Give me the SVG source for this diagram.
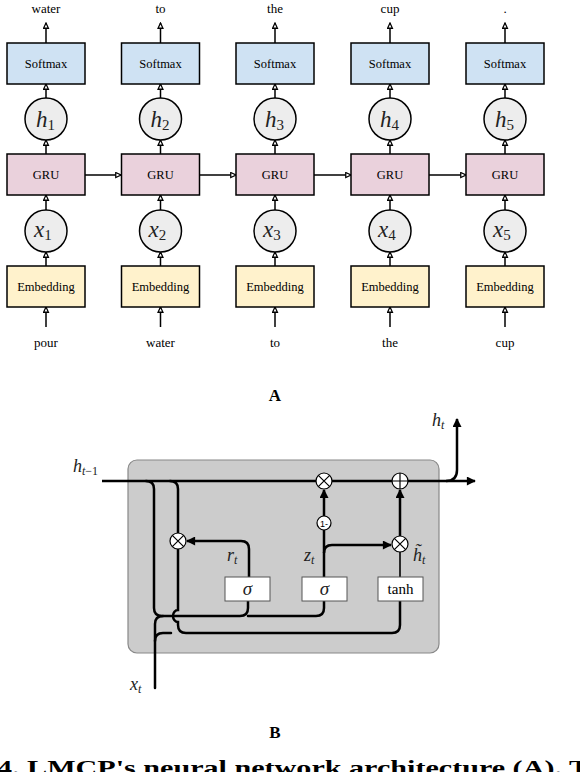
<svg xmlns="http://www.w3.org/2000/svg" width="580" height="772" viewBox="0 0 580 772">
<defs>
<style>
.box{stroke:#000;stroke-width:1.5}
.sm{fill:#cfe2f3}
.gru{fill:#ead1dc}
.emb{fill:#fff2cc}
.circ{fill:#ededed;stroke:#000;stroke-width:1.5}
.lbl{font-family:'Liberation Serif','Times New Roman',Times,'DejaVu Serif',serif;font-size:12.5px;text-anchor:middle;fill:#000}
.word{font-family:'Liberation Serif','Times New Roman',Times,'DejaVu Serif',serif;font-size:13px;text-anchor:middle;fill:#000}
.mi{font-family:'Liberation Serif','Times New Roman',Times,'DejaVu Serif',serif;font-style:italic;fill:#222}
.sub{font-style:normal}
.ca{stroke:#000;stroke-width:1.5;fill:none;marker-end:url(#open)}
.w{stroke:#000;stroke-width:2.5;fill:none;stroke-linecap:round}
.wa{stroke:#000;stroke-width:2.5;fill:none;marker-end:url(#fill)}
.op{fill:#fff;stroke:#000;stroke-width:1.2}
.gate{fill:#fff;stroke:#555;stroke-width:1}
.head{font-family:'Liberation Serif','Times New Roman',Times,'DejaVu Serif',serif;font-weight:bold;font-size:17px;text-anchor:middle}
</style>
<marker id="open" viewBox="0 0 10 10" refX="9" refY="5" markerWidth="7" markerHeight="7" orient="auto" markerUnits="userSpaceOnUse">
<path d="M1.5,1.5 L9,5 L1.5,8.5 Z" fill="#fff" stroke="#000" stroke-width="1.8"/>
</marker>
<marker id="fill" viewBox="0 0 10 10" refX="9" refY="5" markerWidth="11" markerHeight="9" orient="auto" markerUnits="userSpaceOnUse">
<path d="M0,0 L10,5 L0,10 Z" fill="#000"/>
</marker>
</defs>
<rect width="580" height="772" fill="#fff"/>

<!-- Part A connectors -->
<g id="connectorsA">
<g id="c1">
<line class="ca" x1="46" y1="43" x2="46" y2="23"/>
<line class="ca" x1="46" y1="98" x2="46" y2="84"/>
<line class="ca" x1="46" y1="154" x2="46" y2="140"/>
<line class="ca" x1="46" y1="210" x2="46" y2="195"/>
<line class="ca" x1="46" y1="266" x2="46" y2="252"/>
<line class="ca" x1="46" y1="327" x2="46" y2="307"/>
<line class="ca" x1="85" y1="175" x2="121" y2="175"/>
</g>
<g id="c2">
<line class="ca" x1="160.5" y1="43" x2="160.5" y2="23"/>
<line class="ca" x1="160.5" y1="98" x2="160.5" y2="84"/>
<line class="ca" x1="160.5" y1="154" x2="160.5" y2="140"/>
<line class="ca" x1="160.5" y1="210" x2="160.5" y2="195"/>
<line class="ca" x1="160.5" y1="266" x2="160.5" y2="252"/>
<line class="ca" x1="160.5" y1="327" x2="160.5" y2="307"/>
<line class="ca" x1="199.5" y1="175" x2="236" y2="175"/>
</g>
<g id="c3">
<line class="ca" x1="275" y1="43" x2="275" y2="23"/>
<line class="ca" x1="275" y1="98" x2="275" y2="84"/>
<line class="ca" x1="275" y1="154" x2="275" y2="140"/>
<line class="ca" x1="275" y1="210" x2="275" y2="195"/>
<line class="ca" x1="275" y1="266" x2="275" y2="252"/>
<line class="ca" x1="275" y1="327" x2="275" y2="307"/>
<line class="ca" x1="314" y1="175" x2="351" y2="175"/>
</g>
<g id="c4">
<line class="ca" x1="390" y1="43" x2="390" y2="23"/>
<line class="ca" x1="390" y1="98" x2="390" y2="84"/>
<line class="ca" x1="390" y1="154" x2="390" y2="140"/>
<line class="ca" x1="390" y1="210" x2="390" y2="195"/>
<line class="ca" x1="390" y1="266" x2="390" y2="252"/>
<line class="ca" x1="390" y1="327" x2="390" y2="307"/>
<line class="ca" x1="429" y1="175" x2="466" y2="175"/>
</g>
<g id="c5">
<line class="ca" x1="505" y1="43" x2="505" y2="23"/>
<line class="ca" x1="505" y1="98" x2="505" y2="84"/>
<line class="ca" x1="505" y1="154" x2="505" y2="140"/>
<line class="ca" x1="505" y1="210" x2="505" y2="195"/>
<line class="ca" x1="505" y1="266" x2="505" y2="252"/>
<line class="ca" x1="505" y1="327" x2="505" y2="307"/>
</g>
</g>

<!-- Part A nodes -->
<g id="col1">
<text class="word" x="46" y="13">water</text>
<g id="softmax1"><rect class="box sm" x="7" y="43" width="78" height="41"/><text class="lbl" x="46" y="68">Softmax</text></g>
<g id="h1"><circle class="circ" cx="46" cy="119" r="21"/><text class="mi" x="36" y="127" font-size="23">h<tspan class="sub" font-size="15" dy="3">1</tspan></text></g>
<g id="gru1"><rect class="box gru" x="7" y="154" width="78" height="41"/><text class="lbl" x="46" y="179">GRU</text></g>
<g id="x1"><circle class="circ" cx="46" cy="231" r="21"/><text class="mi" x="34" y="237" font-size="23">x<tspan class="sub" font-size="15" dy="3">1</tspan></text></g>
<g id="emb1"><rect class="box emb" x="7" y="266" width="78" height="41"/><text class="lbl" x="46" y="291">Embedding</text></g>
<text class="word" x="46" y="347">pour</text>
</g>
<g id="col2">
<text class="word" x="160.5" y="13">to</text>
<g id="softmax2"><rect class="box sm" x="121.5" y="43" width="78" height="41"/><text class="lbl" x="160.5" y="68">Softmax</text></g>
<g id="h2"><circle class="circ" cx="160.5" cy="119" r="21"/><text class="mi" x="150.5" y="127" font-size="23">h<tspan class="sub" font-size="15" dy="3">2</tspan></text></g>
<g id="gru2"><rect class="box gru" x="121.5" y="154" width="78" height="41"/><text class="lbl" x="160.5" y="179">GRU</text></g>
<g id="x2"><circle class="circ" cx="160.5" cy="231" r="21"/><text class="mi" x="148.5" y="237" font-size="23">x<tspan class="sub" font-size="15" dy="3">2</tspan></text></g>
<g id="emb2"><rect class="box emb" x="121.5" y="266" width="78" height="41"/><text class="lbl" x="160.5" y="291">Embedding</text></g>
<text class="word" x="160.5" y="347">water</text>
</g>
<g id="col3">
<text class="word" x="275" y="13">the</text>
<g id="softmax3"><rect class="box sm" x="236" y="43" width="78" height="41"/><text class="lbl" x="275" y="68">Softmax</text></g>
<g id="h3"><circle class="circ" cx="275" cy="119" r="21"/><text class="mi" x="265" y="127" font-size="23">h<tspan class="sub" font-size="15" dy="3">3</tspan></text></g>
<g id="gru3"><rect class="box gru" x="236" y="154" width="78" height="41"/><text class="lbl" x="275" y="179">GRU</text></g>
<g id="x3"><circle class="circ" cx="275" cy="231" r="21"/><text class="mi" x="263" y="237" font-size="23">x<tspan class="sub" font-size="15" dy="3">3</tspan></text></g>
<g id="emb3"><rect class="box emb" x="236" y="266" width="78" height="41"/><text class="lbl" x="275" y="291">Embedding</text></g>
<text class="word" x="275" y="347">to</text>
</g>
<g id="col4">
<text class="word" x="390" y="13">cup</text>
<g id="softmax4"><rect class="box sm" x="351" y="43" width="78" height="41"/><text class="lbl" x="390" y="68">Softmax</text></g>
<g id="h4"><circle class="circ" cx="390" cy="119" r="21"/><text class="mi" x="380" y="127" font-size="23">h<tspan class="sub" font-size="15" dy="3">4</tspan></text></g>
<g id="gru4"><rect class="box gru" x="351" y="154" width="78" height="41"/><text class="lbl" x="390" y="179">GRU</text></g>
<g id="x4"><circle class="circ" cx="390" cy="231" r="21"/><text class="mi" x="378" y="237" font-size="23">x<tspan class="sub" font-size="15" dy="3">4</tspan></text></g>
<g id="emb4"><rect class="box emb" x="351" y="266" width="78" height="41"/><text class="lbl" x="390" y="291">Embedding</text></g>
<text class="word" x="390" y="347">the</text>
</g>
<g id="col5">
<text class="word" x="505" y="13">.</text>
<g id="softmax5"><rect class="box sm" x="466" y="43" width="78" height="41"/><text class="lbl" x="505" y="68">Softmax</text></g>
<g id="h5"><circle class="circ" cx="505" cy="119" r="21"/><text class="mi" x="495" y="127" font-size="23">h<tspan class="sub" font-size="15" dy="3">5</tspan></text></g>
<g id="gru5"><rect class="box gru" x="466" y="154" width="78" height="41"/><text class="lbl" x="505" y="179">GRU</text></g>
<g id="x5"><circle class="circ" cx="505" cy="231" r="21"/><text class="mi" x="493" y="237" font-size="23">x<tspan class="sub" font-size="15" dy="3">5</tspan></text></g>
<g id="emb5"><rect class="box emb" x="466" y="266" width="78" height="41"/><text class="lbl" x="505" y="291">Embedding</text></g>
<text class="word" x="505" y="347">cup</text>
</g>

<text class="head" x="275" y="401">A</text>

<!-- Part B -->
<g id="cell"><rect x="128" y="460" width="311" height="193" rx="9" fill="#cccccc" stroke="#888" stroke-width="1.2"/></g>

<g id="connectorsB">
<path class="wa" d="M102,481 L475,481"/>
<path class="wa" d="M446,481 Q457,481 457,470 L457,419"/>
<path class="w" d="M146,481 Q154,481 154,489 L154,608 Q154,616 162,616 L240,616 Q248,616 248,608 L248,601 M248,616 L316,616 Q324,616 324,608 L324,601"/>
<path class="w" d="M155,688 L155,624 Q155,616 163,616"/>
<path class="w" d="M155,641 Q155,633 163,633 L171,633"/>
<path class="w" d="M170,481 Q178,481 178,489 L178,533"/>
<path class="w" d="M178,549 L178,610 A5,6 0 0 0 178,622 L178,625 Q178,633 186,633 L392,633 Q400,633 400,625 L400,601"/>
<path class="wa" d="M249,577 L249,549 Q249,541 241,541 L187,541"/>
<path class="w" d="M324,577 L324,530"/>
<path class="wa" d="M324,553 Q324,545 332,545 L391,545"/>
<path class="wa" d="M324,516 L324,490"/>
<path class="wa" d="M400,536 L400,490"/>
<line x1="400" y1="577" x2="400" y2="552" stroke="#000" stroke-width="1.6"/>
</g>

<g id="mul_top"><circle class="op" cx="324" cy="481" r="8"/><path d="M318.3,475.3 L329.7,486.7 M329.7,475.3 L318.3,486.7" stroke="#000" stroke-width="1.2"/></g>
<g id="plus"><circle class="op" cx="400" cy="481" r="8"/><path d="M392,481 L408,481 M400,473 L400,489" stroke="#000" stroke-width="1.2"/></g>
<g id="mul_r"><circle class="op" cx="178" cy="541" r="8"/><path d="M172.3,535.3 L183.7,546.7 M183.7,535.3 L172.3,546.7" stroke="#000" stroke-width="1.2"/></g>
<g id="mul_h"><circle class="op" cx="400" cy="544" r="8"/><path d="M394.3,538.3 L405.7,549.7 M405.7,538.3 L394.3,549.7" stroke="#000" stroke-width="1.2"/></g>
<g id="oneminus"><circle class="op" cx="324" cy="523" r="7"/><text x="324" y="526.5" font-family="'Liberation Sans',Arial,sans-serif" font-size="9" text-anchor="middle">1-</text></g>
<g id="sigma_r"><rect class="gate" x="225" y="577" width="45" height="24"/><text class="mi" x="247.5" y="595" font-size="19" text-anchor="middle">σ</text></g>
<g id="sigma_z"><rect class="gate" x="302" y="577" width="45" height="24"/><text class="mi" x="324.5" y="595" font-size="19" text-anchor="middle">σ</text></g>
<g id="tanh"><rect class="gate" x="378" y="577" width="45" height="24"/><text class="lbl" x="400.5" y="594" style="font-size:15px">tanh</text></g>

<text class="mi" x="73" y="472" font-size="18">h<tspan font-size="12" dy="3">t<tspan class="sub">−1</tspan></tspan></text>
<text class="mi" x="432" y="426" font-size="18">h<tspan font-size="12" dy="3">t</tspan></text>
<text class="mi" x="227" y="561" font-size="18">r<tspan font-size="12" dy="3">t</tspan></text>
<text class="mi" x="304" y="561" font-size="18">z<tspan font-size="12" dy="3">t</tspan></text>
<text class="mi" x="413" y="561" font-size="18">h̃<tspan font-size="12" dy="3">t</tspan></text>
<text class="mi" x="130" y="690" font-size="18">x<tspan font-size="12" dy="3">t</tspan></text>

<text class="head" x="275" y="738">B</text>
<text x="-3" y="775" font-family="'Liberation Serif','Times New Roman',Times,serif" font-weight="bold" font-size="22" textLength="592" lengthAdjust="spacingAndGlyphs">4. LMCP's neural network architecture (A). T</text>
</svg>
